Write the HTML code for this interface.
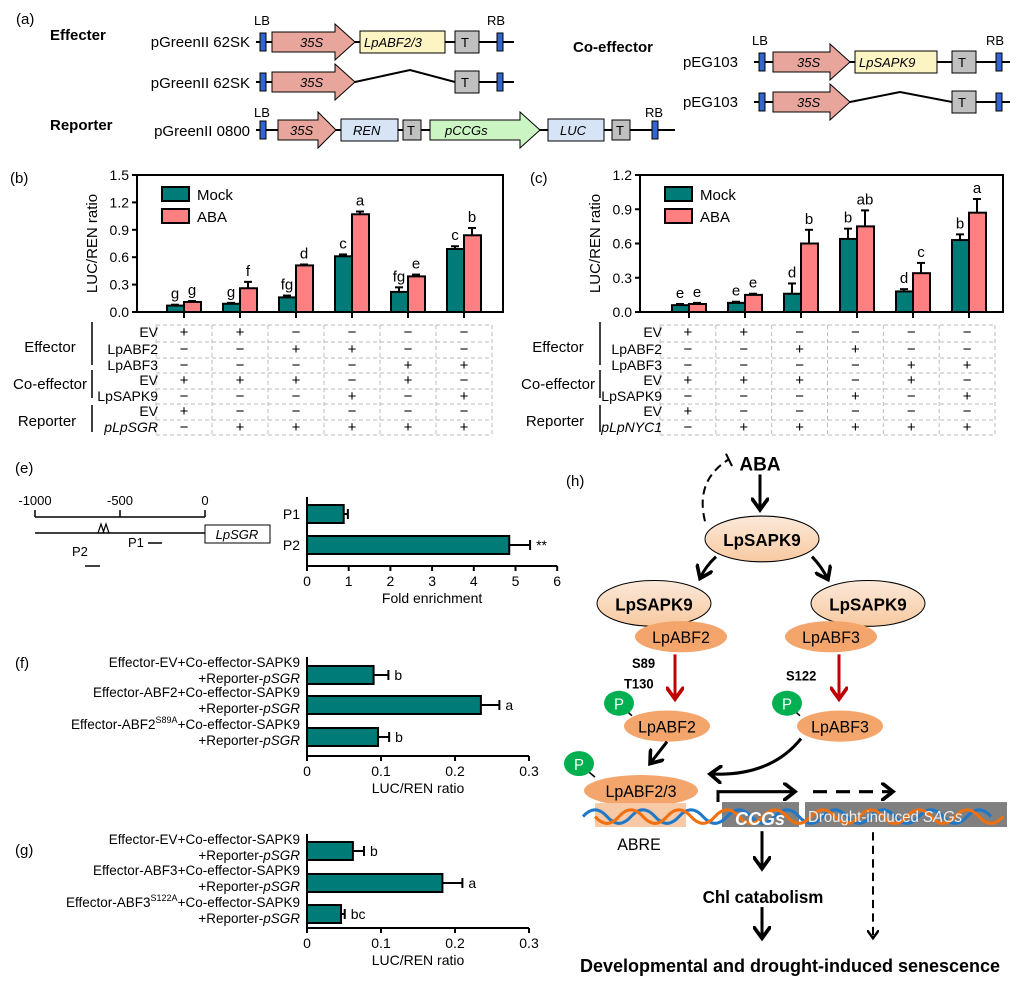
<!DOCTYPE html>
<html><head><meta charset="utf-8"><style>
body{margin:0;background:#fff}
svg{display:block;font-family:"Liberation Sans",Arial,sans-serif}
</style></head><body>
<svg id="s" width="1030" height="991" viewBox="0 0 1030 991" xmlns="http://www.w3.org/2000/svg">
<defs>
<linearGradient id="sg" x1="0" y1="0" x2="0" y2="1"><stop offset="0" stop-color="#fbe9da"/><stop offset="1" stop-color="#f8c9a0"/></linearGradient>
<marker id="ah" markerWidth="6" markerHeight="6" refX="4" refY="3" orient="auto" markerUnits="strokeWidth"><path d="M0,0 L4,3 L0,6" fill="none" stroke="#000" stroke-width="1.2"/></marker>
<marker id="ar" markerWidth="6" markerHeight="6" refX="4" refY="3" orient="auto" markerUnits="strokeWidth"><path d="M0,0 L4,3 L0,6" fill="none" stroke="#c00000" stroke-width="1.2"/></marker>
</defs>
<g id="g"></g>
<!-- Panel a -->
<g font-size="15">
<text x="16" y="24" font-size="15">(a)</text>
<text x="50" y="40" font-weight="bold">Effecter</text>
<text x="50" y="130" font-weight="bold">Reporter</text>
<text x="573" y="52" font-weight="bold">Co-effector</text>
<text x="250" y="47" text-anchor="end">pGreenII 62SK</text>
<text x="250" y="88" text-anchor="end">pGreenII 62SK</text>
<text x="250" y="136" text-anchor="end">pGreenII 0800</text>
<text x="738" y="67" text-anchor="end">pEG103</text>
<text x="738" y="107" text-anchor="end">pEG103</text>
<text x="254" y="25" font-size="13">LB</text><text x="487" y="25" font-size="13">RB</text>
<text x="254" y="117" font-size="13">LB</text><text x="645" y="117" font-size="13">RB</text>
<text x="752" y="45" font-size="13">LB</text><text x="986" y="45" font-size="13">RB</text>
</g>
<g stroke="#000" stroke-width="2" fill="none">
<line x1="256" y1="42" x2="514" y2="42"/>
<path d="M256,82 H355 L410,70 L455,82 H514"/>
<line x1="256" y1="130" x2="675" y2="130"/>
<line x1="754" y1="62" x2="1010" y2="62"/>
<path d="M754,102 H850 L900,92 L952,102 H1010"/>
</g>
<g stroke="#000" stroke-width="1" font-size="13" font-style="italic">
<rect x="260" y="33" width="6" height="18" fill="#3366cc"/><rect x="497" y="33" width="6" height="18" fill="#3366cc"/>
<rect x="260" y="73" width="6" height="18" fill="#3366cc"/><rect x="497" y="73" width="6" height="18" fill="#3366cc"/>
<rect x="260" y="121" width="6" height="18" fill="#3366cc"/><rect x="652" y="121" width="6" height="18" fill="#3366cc"/>
<rect x="759" y="53" width="6" height="18" fill="#3366cc"/><rect x="996" y="53" width="6" height="18" fill="#3366cc"/>
<rect x="759" y="93" width="6" height="18" fill="#3366cc"/><rect x="996" y="93" width="6" height="18" fill="#3366cc"/>
<path d="M272,32 H335 V24 L355,42 L335,60 V52 H272Z" fill="#e8a59c"/>
<path d="M272,72 H335 V64 L355,82 L335,100 V92 H272Z" fill="#e8a59c"/>
<path d="M278,120 H318 V112 L336,130 L318,148 V140 H278Z" fill="#e8a59c"/>
<path d="M773,52 H830 V44 L850,62 L830,80 V72 H773Z" fill="#e8a59c"/>
<path d="M773,92 H830 V84 L850,102 L830,120 V112 H773Z" fill="#e8a59c"/>
<rect x="360" y="31" width="85" height="22" fill="#fdf4c4"/>
<rect x="855" y="51" width="82" height="22" fill="#fdf4c4"/>
<rect x="341" y="119" width="57" height="22" fill="#d6e4f6"/>
<rect x="548" y="119" width="56" height="22" fill="#d6e4f6"/>
<path d="M430,120 H520 V112 L540,130 L520,148 V140 H430Z" fill="#ccf5c4"/>
<rect x="455" y="31" width="24" height="22" fill="#c0c0c0"/><rect x="455" y="71" width="24" height="22" fill="#c0c0c0"/>
<rect x="403" y="120" width="18" height="20" fill="#c0c0c0"/><rect x="612" y="120" width="18" height="20" fill="#c0c0c0"/>
<rect x="952" y="51" width="24" height="22" fill="#c0c0c0"/><rect x="952" y="91" width="24" height="22" fill="#c0c0c0"/>
<g stroke="none" fill="#000">
<text x="300" y="47">35S</text><text x="300" y="87">35S</text><text x="290" y="135">35S</text>
<text x="797" y="67">35S</text><text x="797" y="107">35S</text>
<text x="364" y="47">LpABF2/3</text><text x="859" y="67">LpSAPK9</text>
<text x="353" y="135">REN</text><text x="445" y="135">pCCGs</text><text x="560" y="135">LUC</text>
<g font-style="normal"><text x="461" y="47">T</text><text x="461" y="87">T</text><text x="407" y="135">T</text><text x="616" y="135">T</text><text x="958" y="67">T</text><text x="958" y="107">T</text></g>
</g></g>
<!-- h -->
<text x="566" y="486" font-size="15">(h)</text>
<g transform="translate(0,-18.5) scale(1,1.04)">
<text x="760" y="470" font-size="19" font-weight="bold" text-anchor="middle">ABA</text>
<path d="M705,519 Q695,480 728,460" fill="none" stroke="#000" stroke-width="2" stroke-dasharray="8,5"/>
<line x1="726" y1="454" x2="732" y2="466" stroke="#000" stroke-width="2"/>
<line x1="760" y1="474" x2="760" y2="508" stroke="#000" stroke-width="3" marker-end="url(#ah)"/>
<ellipse cx="762" cy="536" rx="57" ry="22" fill="url(#sg)" stroke="#000"/>
<text x="762" y="543" font-size="17" font-weight="bold" text-anchor="middle">LpSAPK9</text>
<path d="M716,553 Q705,563 700,574" fill="none" stroke="#000" stroke-width="3" marker-end="url(#ah)"/>
<path d="M812,553 Q822,563 828,575" fill="none" stroke="#000" stroke-width="3" marker-end="url(#ah)"/>
<ellipse cx="654" cy="598" rx="57" ry="22" fill="url(#sg)" stroke="#000"/>
<ellipse cx="868" cy="598" rx="57" ry="22" fill="url(#sg)" stroke="#000"/>
<text x="654" y="605" font-size="17" font-weight="bold" text-anchor="middle">LpSAPK9</text>
<text x="868" y="605" font-size="17" font-weight="bold" text-anchor="middle">LpSAPK9</text>
<g fill="#f4a56c"><ellipse cx="681" cy="630" rx="46" ry="15"/><ellipse cx="831" cy="630" rx="46" ry="15"/><ellipse cx="667" cy="716" rx="43" ry="15"/><ellipse cx="840" cy="716" rx="43" ry="15"/><ellipse cx="641" cy="778" rx="57" ry="15"/></g>
<rect x="595" y="790" width="91" height="23" fill="#f8c9a6"/>
<rect x="722" y="789" width="77" height="24" fill="#808080"/>
<rect x="805" y="789" width="202" height="24" fill="#808080"/>
<path d="M583,793 q12,-13 24,0 t24,0 t24,0 t24,0 t24,0 t24,0 t24,0 t24,0 t24,0 t24,0 t24,0 t24,0 t24,0 t24,0 t24,0 t24,0 t24,0" fill="none" stroke="#1f78c8" stroke-width="3" transform="translate(0,10)"/>
<path d="M595,803 q12,13 24,0 t24,0 t24,0 t24,0 t24,0 t24,0 t24,0 t24,0 t24,0 t24,0 t24,0 t24,0 t24,0 t24,0 t24,0 t24,0 t24,0" fill="none" stroke="#f07010" stroke-width="3"/>
<text x="760" y="811" font-size="18" font-weight="bold" font-style="italic" fill="#fff" text-anchor="middle">CCGs</text>
<text x="808" y="808" font-size="15" fill="#eee">Drought-induced <tspan font-style="italic">SAGs</tspan></text>
<text x="639" y="835" font-size="16" text-anchor="middle">ABRE</text>
<g font-size="16" text-anchor="middle"><text x="681" y="636">LpABF2</text><text x="831" y="636">LpABF3</text><text x="667" y="722">LpABF2</text><text x="840" y="722">LpABF3</text><text x="641" y="784">LpABF2/3</text></g>
<g font-size="13" font-weight="bold"><text x="632" y="660">S89</text><text x="624" y="680">T130</text><text x="786" y="672">S122</text></g>
<line x1="675" y1="647" x2="675" y2="690" stroke="#c00000" stroke-width="3" marker-end="url(#ar)"/>
<line x1="839" y1="647" x2="839" y2="690" stroke="#c00000" stroke-width="3" marker-end="url(#ar)"/>
<g stroke="#000" stroke-width="1.5"><line x1="625" y1="700" x2="632" y2="706"/><line x1="793" y1="700" x2="800" y2="706"/><line x1="585" y1="757" x2="595" y2="765"/></g>
<g fill="#00b050"><ellipse cx="619" cy="694" rx="15" ry="12"/><ellipse cx="787" cy="694" rx="15" ry="12"/><ellipse cx="579" cy="752" rx="15" ry="12"/></g>
<g fill="#fff" font-size="15" text-anchor="middle"><text x="619" y="700">P</text><text x="787" y="700">P</text><text x="579" y="758">P</text></g>
<line x1="667" y1="731" x2="650" y2="752" stroke="#000" stroke-width="3" marker-end="url(#ah)"/>
<path d="M801,728 Q770,765 710,762" fill="none" stroke="#000" stroke-width="3" marker-end="url(#ah)"/>
<path d="M718,789 V779 H795" fill="none" stroke="#000" stroke-width="3" marker-end="url(#ah)"/>
<line x1="813" y1="779" x2="893" y2="779" stroke="#000" stroke-width="3" stroke-dasharray="14,9" marker-end="url(#ah)"/>
<line x1="762" y1="817" x2="762" y2="853" stroke="#000" stroke-width="3" marker-end="url(#ah)"/>
<text x="763" y="886" font-size="17" font-weight="bold" text-anchor="middle">Chl catabolism</text>
<line x1="762" y1="890" x2="762" y2="920" stroke="#000" stroke-width="3" marker-end="url(#ah)"/>
<line x1="873" y1="818" x2="873" y2="920" stroke="#000" stroke-width="2" stroke-dasharray="8,5" marker-end="url(#ah)"/>
</g>
<text x="790" y="972" font-size="18" font-weight="bold" text-anchor="middle">Developmental and drought-induced senescence</text>
</svg>
<script>
const g=document.getElementById('g');let h='';
function T(x,y,t,o){h+=`<text x="${x}" y="${y}" ${o||''}>${t}</text>`;}
function L(a,b,c,d,o){h+=`<line x1="${a}" y1="${b}" x2="${c}" y2="${d}" ${o||'stroke="#000" stroke-width="2"'}/>`;}
function R(x,y,w,hh,f){h+=`<rect x="${x}" y="${y}" width="${w}" height="${hh}" fill="${f}" stroke="#000" stroke-width="2"/>`;}
const TEAL='#007b78',PINK='#ff8080';
function bar(lbl,px,x0,x1,top,bot,max,step,ticks,cs,mock,aba,em,ea,lm,la){
 T(px,183,lbl,'font-size="15"');
 const s=(bot-top)/max;
 h+=`<rect x="${x0}" y="${top}" width="${x1-x0}" height="${bot-top}" fill="none" stroke="#000" stroke-width="2"/>`;
 ticks.forEach((t,i)=>{const y=bot-i*step*s;L(x0-5,y,x0,y);T(x0-8,y+5,t,'font-size="14" text-anchor="end"');});
 T(0,0,'LUC/REN ratio',`font-size="15" text-anchor="middle" transform="translate(${x0-40},${(top+bot)/2}) rotate(-90)"`);
 cs.forEach((c,i)=>{L(c,bot,c,bot+6);
  const hm=mock[i]*s,ha=aba[i]*s;
  L(c-9,bot-hm-em[i]*s,c-9,bot-hm);L(c-13,bot-hm-em[i]*s,c-5,bot-hm-em[i]*s);
  L(c+8,bot-ha-ea[i]*s,c+8,bot-ha);L(c+4,bot-ha-ea[i]*s,c+12,bot-ha-ea[i]*s);
  R(c-17,bot-hm,17,hm,TEAL);R(c,bot-ha,17,ha,PINK);
  T(c-9,bot-hm-em[i]*s-6,lm[i],'font-size="15" text-anchor="middle"');
  T(c+8,bot-ha-ea[i]*s-6,la[i],'font-size="15" text-anchor="middle"');});
 R(x0+25,top+12,27,14,TEAL);R(x0+25,top+34,27,14,PINK);
 T(x0+60,top+25,'Mock','font-size="15"');T(x0+60,top+47,'ABA','font-size="15"');
}
bar('(b)',10,137,503,175,312,1.5,0.3,['0.0','0.3','0.6','0.9','1.2','1.5'],[184,240,296,352,408,464],
 [.07,.09,.16,.61,.22,.69],[.11,.26,.51,1.07,.39,.84],[.01,.01,.02,.02,.05,.03],[.01,.07,.01,.03,.02,.08],
 ['g','g','fg','c','fg','c'],['g','f','d','a','e','b']);
bar('(c)',530,640,1003,175,312,1.2,0.3,['0.0','0.3','0.6','0.9','1.2'],[689,745,801,857,913,969],
 [.06,.08,.16,.64,.18,.63],[.07,.15,.6,.75,.34,.87],[.01,.01,.09,.09,.02,.05],[.01,.01,.12,.14,.09,.12],
 ['e','e','d','b','d','b'],['e','e','b','ab','c','a']);
function table(x0,x1,lab,rep){
 const ys=[325,342,358,373,389,404,420,435];const dash='stroke="#bbb" stroke-width="1" stroke-dasharray="4,3"';
 ys.forEach(y=>L(x0,y,x1,y,dash));
 const w=(x1-x0)/6;for(let i=0;i<=6;i++)L(x0+i*w,325,x0+i*w,435,dash);
 const rows=[['EV','++----'],['LpABF2','--++--'],['LpABF3','----++'],['EV','+++-+-'],['LpSAPK9','---+-+'],['EV','+-----'],[rep,'-+++++']];
 rows.forEach((r,j)=>{const y=ys[j]+12;T(x0+2,y,r[0],'font-size="14" text-anchor="end"'+(j==6?' font-style="italic"':''));
  for(let i=0;i<6;i++)T(x0+w*i+w/2,y,r[1][i]=='+'?'+':'−','font-size="15" text-anchor="middle"');});
 L(lab+67,322,lab+67,365,'stroke="#000" stroke-width="1.5"');L(lab+67,370,lab+67,398,'stroke="#000" stroke-width="1.5"');L(lab+67,405,lab+67,432,'stroke="#000" stroke-width="1.5"');
 T(lab+25,352,'Effector','font-size="15" text-anchor="middle"');T(lab+25,389,'Co-effector','font-size="15" text-anchor="middle"');T(lab+22,426,'Reporter','font-size="15" text-anchor="middle"');
}
table(156,492,25,'pLpSGR');table(660,995,533,'pLpNYC1');
T(15,473,'(e)','font-size="15"');
L(35,517,205,517,'stroke="#000" stroke-width="1.5"');L(35,533,205,533,'stroke="#000" stroke-width="1.5"');
[['-1000',35],['-500',120],['0',205]].forEach(a=>{L(a[1],510,a[1],517,'stroke="#000" stroke-width="1.5"');T(a[1],505,a[0],'font-size="13" text-anchor="middle"');});
h+='<path d="M98,533 l3,-9 l3,9 M103,533 l3,-9 l3,9" fill="none" stroke="#000" stroke-width="1.2"/>';
L(205,533,270,533,'stroke="#000" stroke-width="1.5"');
h+='<rect x="205" y="525" width="65" height="18" fill="#fff" stroke="#000"/>';
T(237,539,'LpSGR','font-size="13" font-style="italic" text-anchor="middle"');
T(128,547,'P1','font-size="13"');L(148,543,162,543,'stroke="#000" stroke-width="1.5"');
T(72,556,'P2','font-size="13"');L(85,566,100,566,'stroke="#000" stroke-width="1.5"');
function hbar(x0,sc,top,bot,ticks,step,bars,xl){
 L(x0,top,x0,bot);L(x0,bot,x0+sc*step*(ticks.length-1),bot);
 ticks.forEach((t,i)=>{const x=x0+sc*step*i;L(x,bot,x,bot+5);T(x,bot+20,t,'font-size="14" text-anchor="middle"');});
 T(x0+sc*step*(ticks.length-1)/2,bot+37,xl,'font-size="14" text-anchor="middle"');
 bars.forEach(b=>{const w=b[1]*sc;L(x0+w,b[0],x0+w+b[2]*sc,b[0]);L(x0+w+b[2]*sc,b[0]-5,x0+w+b[2]*sc,b[0]+5);R(x0,b[0]-9,w,18,TEAL);if(b[3])T(x0+w+b[2]*sc+6,b[0]+5,b[3],'font-size="14"');});
}
hbar(307,41.7,497,566,['0','1','2','3','4','5','6'],1,[[514,0.88,0.1,''],[545,4.85,0.5,'**']],'Fold enrichment');
T(300,519,'P1','font-size="14" text-anchor="end"');T(300,550,'P2','font-size="14" text-anchor="end"');
T(15,668,'(f)','font-size="15"');T(15,855,'(g)','font-size="15"');
hbar(307,740,657,756,['0','0.1','0.2','0.3'],0.1,[[675,0.09,0.02,'b'],[705,0.235,0.025,'a'],[737,0.096,0.015,'b']],'LUC/REN ratio');
hbar(307,740,834,928,['0','0.1','0.2','0.3'],0.1,[[851,0.062,0.015,'b'],[883,0.183,0.027,'a'],[914,0.046,0.005,'bc']],'LUC/REN ratio');
function lab2(y,a,sup){T(300,y-3,`Effector-${a}${sup?`<tspan font-size="9" dy="-6">${sup}</tspan><tspan dy="6">`:'<tspan>'}+Co-effector-SAPK9</tspan>`,'font-size="13.5" text-anchor="end"');T(300,y+13,'+Reporter-<tspan font-style="italic">pSGR</tspan>','font-size="13.5" text-anchor="end"');}
lab2(670,'EV');lab2(700,'ABF2');lab2(732,'ABF2','S89A');
lab2(847,'EV');lab2(878,'ABF3');lab2(910,'ABF3','S122A');
g.innerHTML=h;
</script>
</body></html>
